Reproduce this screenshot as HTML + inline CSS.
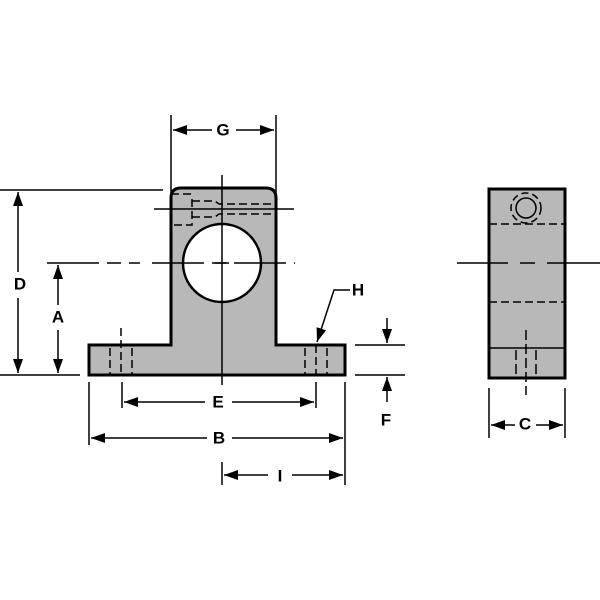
<!DOCTYPE html>
<html><head><style>body{margin:0;background:#fff}svg{display:block}text{font-family:"Liberation Sans",sans-serif;font-weight:bold;font-size:17px;text-anchor:middle;dominant-baseline:middle}</style></head>
<body>
<svg width="600" height="600" viewBox="0 0 600 600">
<defs><marker id="a" markerWidth="14" markerHeight="10" refX="14" refY="5" orient="auto" markerUnits="userSpaceOnUse"><path d="M0,0L14,5L0,10z" fill="#000"/></marker></defs>
<g stroke="#000" fill="none" stroke-width="1.5">
<path d="M171,345 V198 Q171,188 181,188 H266 Q276,188 276,198 V345 H345 V375 H89 V345 Z" fill="#b8b8b8" stroke-width="3"/>
<circle cx="222" cy="263" r="39" fill="#fff" stroke-width="2.5"/>
<path d="M171,194 H192 M192,199 V225 H171 M192,201 H215 L219,204 H276 M192,217 H215 L219,214 H276" stroke-dasharray="8,4" stroke-width="1.5"/>
<path d="M154,209 H294"/>
<path d="M222,175 V385" />
<path d="M47,263 H140 M152,263 H295" stroke-dasharray="52,8,14,8"/>
<path d="M215,263 H229"/>
<path d="M121,328 V375 M110,348 V375 M132,348 V375 M316,345 V375 M305,348 V375 M327,348 V375" stroke-dasharray="8,4"/>
<rect x="489" y="189" width="76" height="189" fill="#b8b8b8" stroke-width="3"/>
<path d="M489,348 H565" stroke-width="1.5"/>
<path d="M489,224 H565 M489,302 H565" stroke-dasharray="8,4"/>
<circle cx="526" cy="208" r="10"/>
<circle cx="526" cy="208" r="15" stroke-dasharray="7,4"/>
<path d="M457,263 H508 M520,263 H535 M547,263 H600" />
<path d="M526,330 V395 M516,350 V378 M536,350 V378" stroke-dasharray="10,4"/>
<path d="M171,115 V218 M276,115 V218"/>
<path d="M0,190 H163 M0,375 H80"/>
<path d="M122,382 V408 M316,382 V408 M89,382 V445 M345,382 V485 M222,462 V485"/>
<path d="M355,345 H405 M355,375 H405"/>
<path d="M489,388 V438 M565,388 V438"/>
<path d="M212,130 H173" marker-end="url(#a)"/><path d="M236,130 H274" marker-end="url(#a)"/>
<path d="M18,272 V192" marker-end="url(#a)"/><path d="M18,298 V373" marker-end="url(#a)"/>
<path d="M58,305 V265" marker-end="url(#a)"/><path d="M58,330 V373" marker-end="url(#a)"/>
<path d="M205,402 H124" marker-end="url(#a)"/><path d="M232,402 H314" marker-end="url(#a)"/>
<path d="M207,438 H91" marker-end="url(#a)"/><path d="M232,438 H343" marker-end="url(#a)"/>
<path d="M268,475 H224" marker-end="url(#a)"/><path d="M292,475 H343" marker-end="url(#a)"/>
<path d="M387,318 V343" marker-end="url(#a)"/><path d="M387,402 V377" marker-end="url(#a)"/>
<path d="M515,425 H491" marker-end="url(#a)"/><path d="M536,425 H563" marker-end="url(#a)"/>
<path d="M350,290 H334 L317,342" marker-end="url(#a)"/>
</g>
<text x="223" y="131">G</text>
<text x="20" y="285">D</text>
<text x="58" y="318">A</text>
<text x="218" y="403">E</text>
<text x="219" y="439">B</text>
<text x="280" y="477">I</text>
<text x="386" y="421">F</text>
<text x="358" y="291">H</text>
<text x="525" y="425">C</text>
</svg>
</body></html>
